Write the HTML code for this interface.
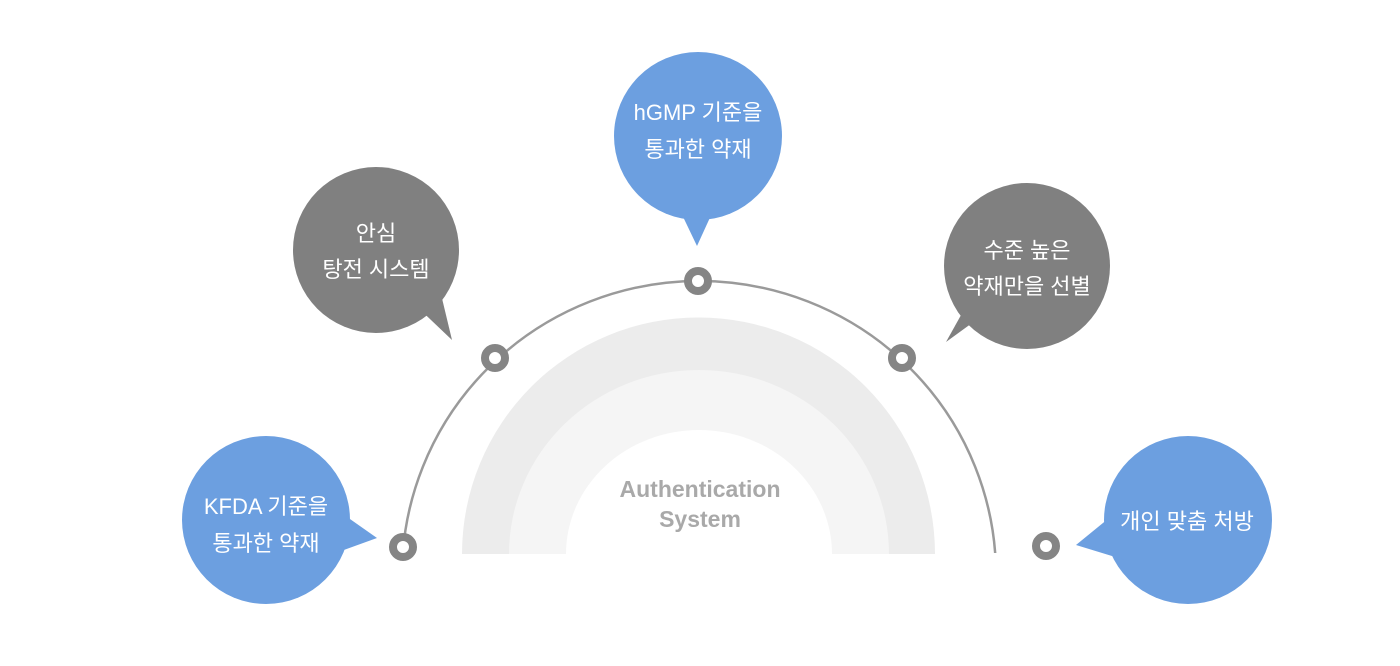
<!DOCTYPE html>
<html><head><meta charset="utf-8"><style>
html,body{margin:0;padding:0;background:#fff;width:1400px;height:666px;overflow:hidden}
svg{display:block}
svg text{font-family:"Liberation Sans","Noto Sans CJK KR",sans-serif}
</style></head><body>
<svg width="1400" height="666" viewBox="0 0 1400 666" xmlns="http://www.w3.org/2000/svg">
<defs><clipPath id="c"><rect x="0" y="0" width="1400" height="553"/></clipPath></defs>
<path d="M462,554 A236.5,236.5 0 0 1 935,554 Z" fill="#ececec"/>
<path d="M509,554 A190,184 0 0 1 889,554 Z" fill="#f5f5f5"/>
<path d="M566,554 A133,124 0 0 1 832,554 Z" fill="#fff"/>
<text x="700" y="497" text-anchor="middle" font-size="23" font-weight="bold" fill="#a9a9a9">Authentication</text>
<text x="700" y="527" text-anchor="middle" font-size="23" font-weight="bold" fill="#a9a9a9">System</text>
<ellipse cx="699" cy="575" rx="297" ry="294" fill="none" stroke="#9a9a9a" stroke-width="2.5" clip-path="url(#c)"/>
<g fill="#fff" stroke="#858585" stroke-width="8">
<circle cx="403" cy="547" r="10"/>
<circle cx="495" cy="358" r="10"/>
<circle cx="698" cy="281" r="10"/>
<circle cx="902" cy="358" r="10"/>
<circle cx="1046" cy="546" r="10"/>
</g>
<g fill="#6c9fe0">
<circle cx="266" cy="520" r="84"/><path d="M330,505 L377,538 L330,555 Z"/>
<circle cx="698" cy="136" r="84"/><path d="M675,200 L697,246 L718,200 Z"/>
<circle cx="1188" cy="520" r="84"/><path d="M1125,505 L1076,545 L1125,560 Z"/>
</g>
<g fill="#808080">
<circle cx="376" cy="250" r="83"/><path d="M410,300 L452,340 L440,290 Z"/>
<circle cx="1027" cy="266" r="83"/><path d="M990,310 L946,342 L975,290 Z"/>
</g>
<g fill="#fff" font-size="22" text-anchor="middle">
<text x="266" y="514">KFDA 기준을</text><text x="266" y="551">통과한 약재</text>
<text x="698" y="120">hGMP 기준을</text><text x="698" y="157">통과한 약재</text>
<text x="1187" y="529">개인 맞춤 처방</text>
<text x="376" y="241">안심</text><text x="376" y="277">탕전 시스템</text>
<text x="1027" y="258">수준 높은</text><text x="1027" y="294">약재만을 선별</text>
</g>
</svg>
</body></html>
